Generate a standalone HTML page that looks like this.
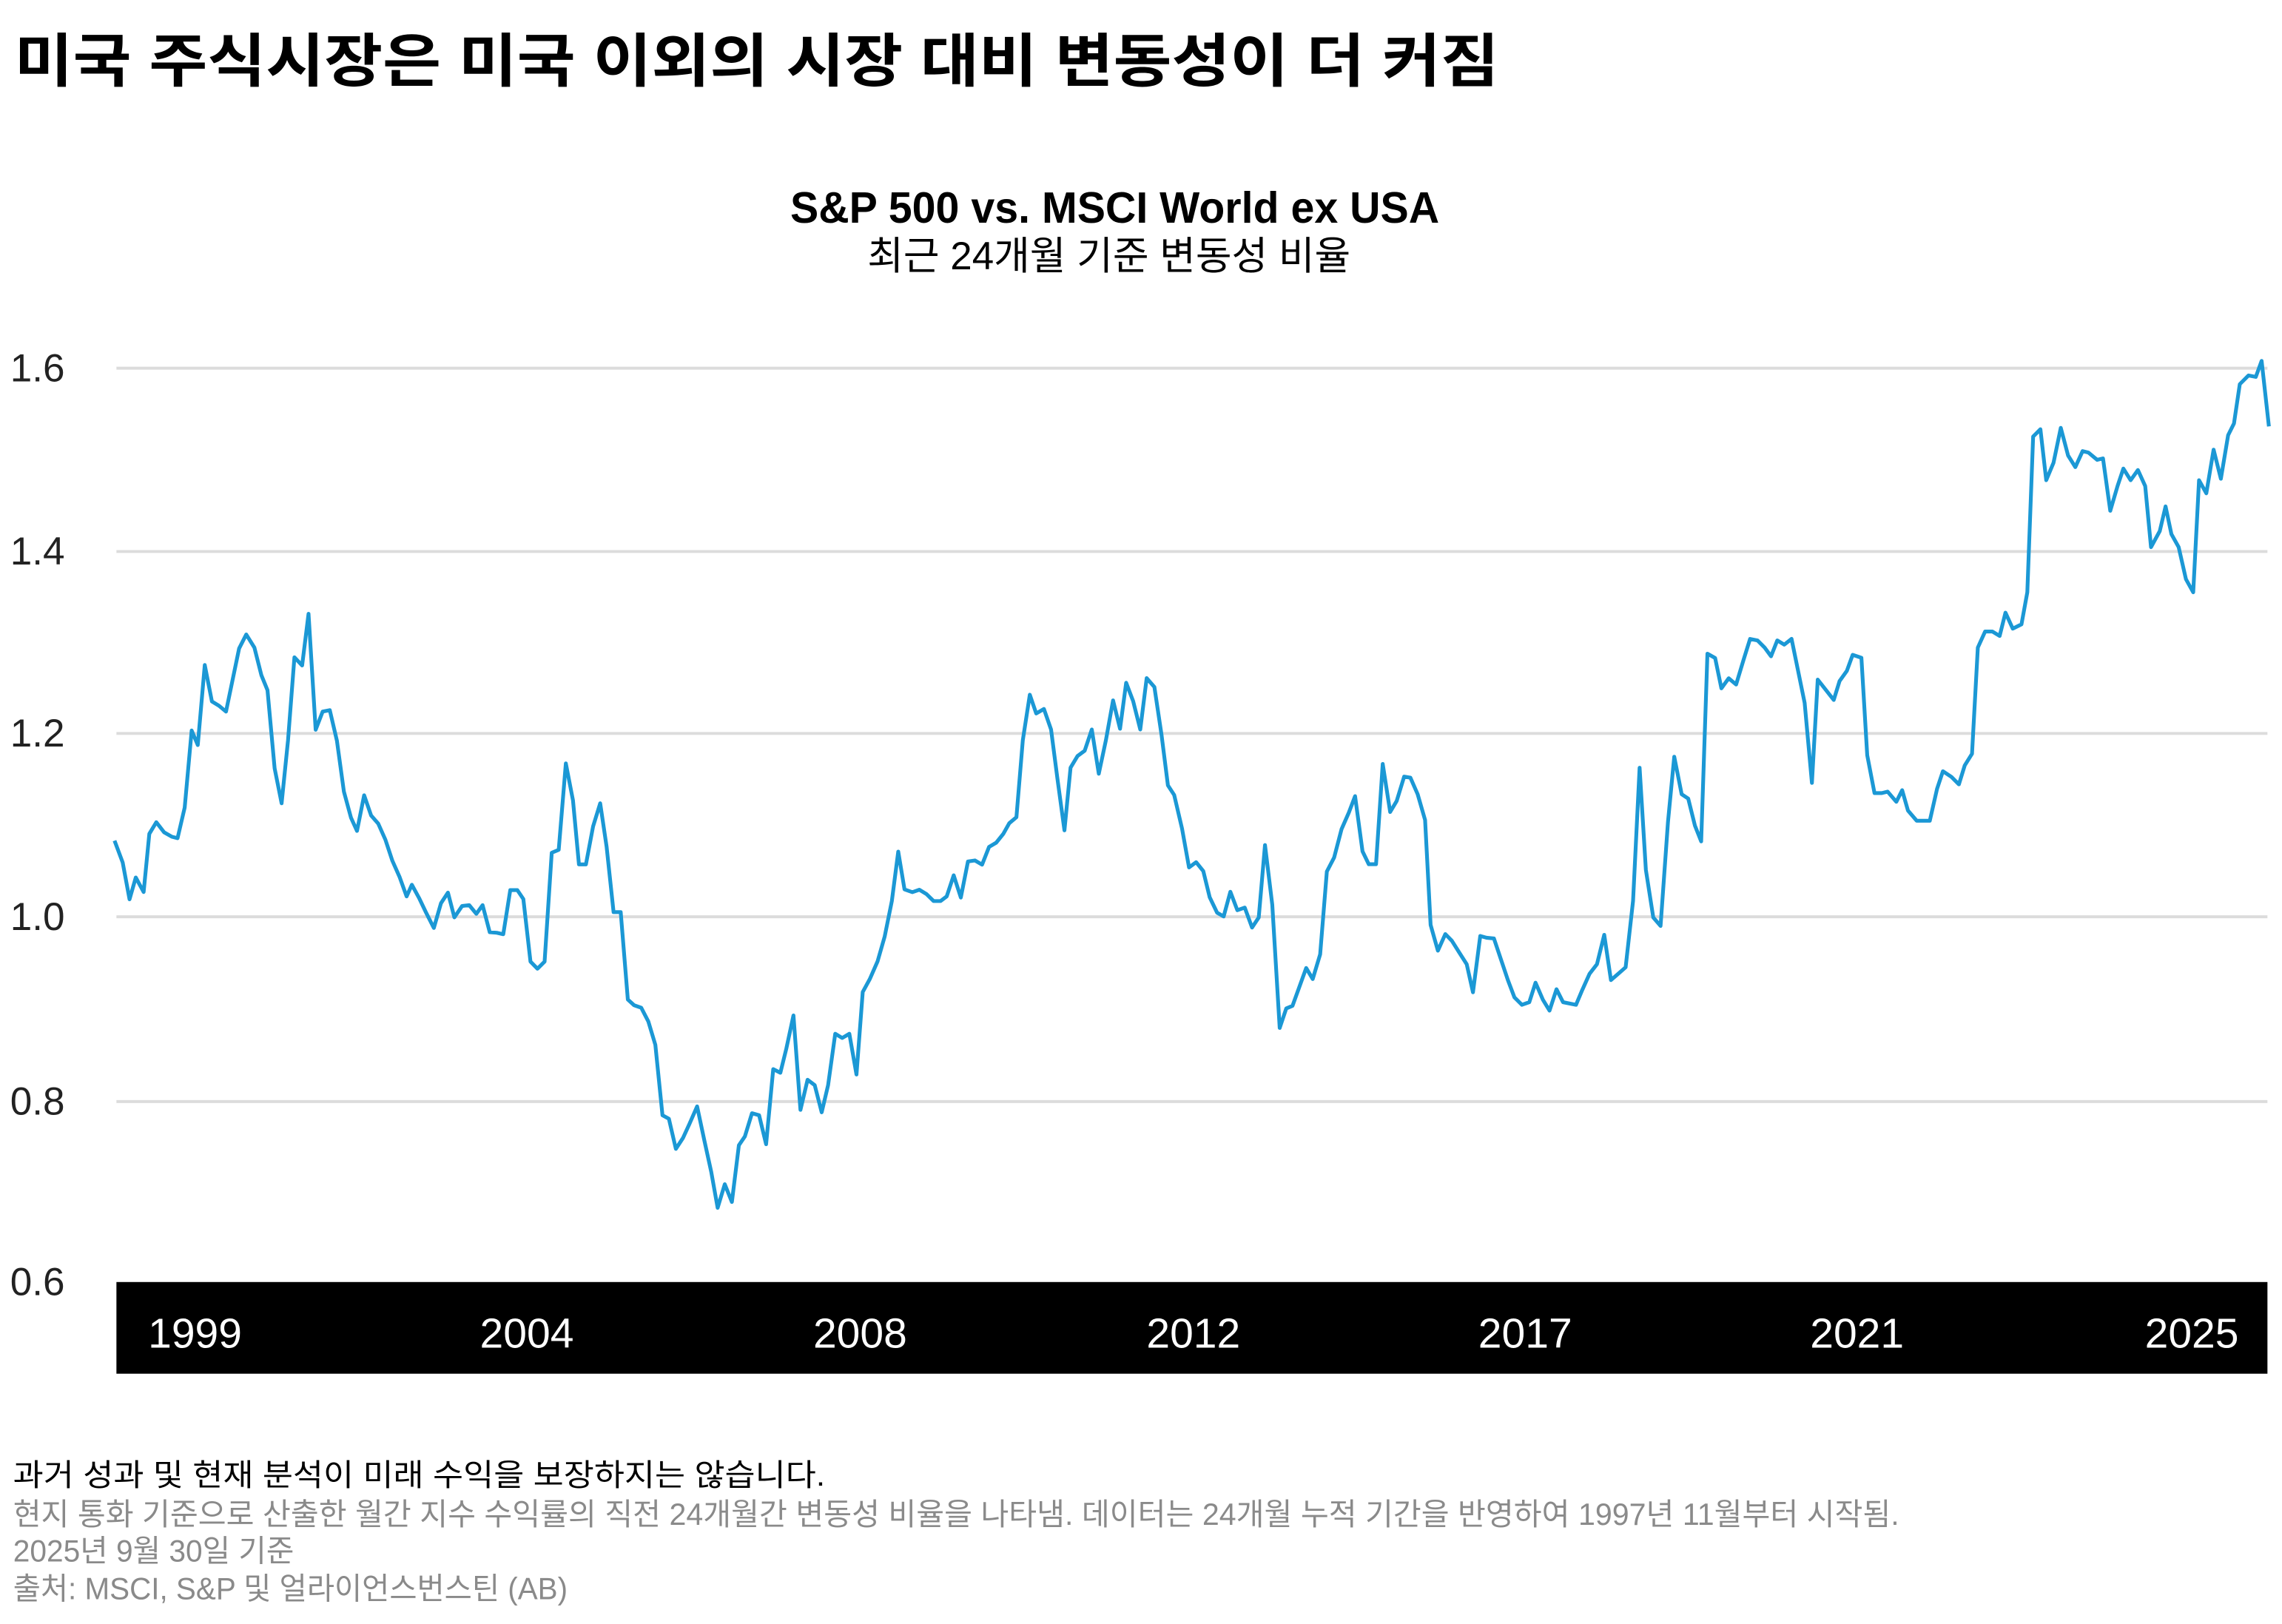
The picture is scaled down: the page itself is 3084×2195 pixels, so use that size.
<!DOCTYPE html>
<html><head><meta charset="utf-8"><style>
html,body{margin:0;padding:0;background:#fff;}
svg{display:block;}
</style></head><body>
<svg xmlns="http://www.w3.org/2000/svg" width="3084" height="2195" viewBox="0 0 1568 1116">
<rect width="1568" height="1116" fill="#fff"/>
<g font-family="'Liberation Sans','Noto Sans CJK KR',sans-serif">
<text x="10" y="56" font-size="40" font-weight="bold" fill="#000" textLength="1020" lengthAdjust="spacingAndGlyphs">미국 주식시장은 미국 이외의 시장 대비 변동성이 더 커짐</text>
<text x="766" y="153" font-size="30" font-weight="bold" fill="#000" text-anchor="middle" textLength="446" lengthAdjust="spacingAndGlyphs">S&amp;P 500 vs. MSCI World ex USA</text>
<text x="762" y="185" font-size="27" fill="#000" text-anchor="middle" textLength="332" lengthAdjust="spacingAndGlyphs">최근 24개월 기준 변동성 비율</text>
</g>
<g stroke="#dcdcdc" stroke-width="2">
<line x1="80" y1="253" x2="1558" y2="253"/>
<line x1="80" y1="379" x2="1558" y2="379"/>
<line x1="80" y1="504" x2="1558" y2="504"/>
<line x1="80" y1="630" x2="1558" y2="630"/>
<line x1="80" y1="757" x2="1558" y2="757"/>
</g>
<g font-family="'Liberation Sans',sans-serif" font-size="27" fill="#222">
<text x="7" y="262">1.6</text>
<text x="7" y="388">1.4</text>
<text x="7" y="513">1.2</text>
<text x="7" y="639">1.0</text>
<text x="7" y="766">0.8</text>
<text x="7" y="890">0.6</text>
</g>
<rect x="80" y="881" width="1478" height="63" fill="#000"/>
<g font-family="'Liberation Sans',sans-serif" font-size="29" fill="#fff" text-anchor="middle">
<text x="134" y="926">1999</text>
<text x="362" y="926">2004</text>
<text x="591" y="926">2008</text>
<text x="820" y="926">2012</text>
<text x="1048" y="926">2017</text>
<text x="1276" y="926">2021</text>
<text x="1506" y="926">2025</text>
</g>
<polyline fill="none" stroke="#1b98d5" stroke-width="2.6" stroke-linejoin="round" points="
78.7,577.7 84.3,592.7 89,618 93.3,603 98.7,613 102.6,573 107.4,565 112.8,572 118.1,575 122,576 126.9,555 131.7,502 135.9,512 140.7,457 145.6,482 150.5,485 155.3,489 164.3,445.6 169.2,436 174.8,445 179.6,464 183.8,474.3 188.7,528 193.5,552 197.9,508.8 202.3,451.7 207.6,457.3 212,421.8 216.9,501.5 221.7,489 226.6,488 231.5,509 236.3,544 241.2,562 245.3,571 250.2,546.5 255,560.4 259.9,566 264.8,577 269.6,591.5 274.5,602.5 279.4,616 283,608 287.9,617 292.7,627 298.1,637.7 303,620.7 307.8,613.4 312.2,630.4 317.5,622.6 322.4,622 327.3,628 331.6,622 336.5,640.6 341.4,641 345.8,642 350.6,611.7 355.5,611.7 359.6,617.8 364.5,660.8 369.3,665.7 374.2,660.8 379.1,586 383.9,584 388.8,524.6 393.7,550 397.8,594 402.6,594 407.5,568 412.4,552 416.8,581.8 421.6,626.8 426.5,626.8 431.4,686.9 435.7,690.8 440.6,692.5 445.5,702 450.3,718 455.2,766.4 459.6,768.8 464.4,789.5 469.3,782 473.7,772.4 479,760.3 483.9,783.4 488.7,805.3 493.1,830 498,813.8 502.9,826 507.7,787 511.8,781 516.7,765 521.6,766.4 526.4,786.3 531.3,734.7 536.2,737.2 540.3,720.6 545.2,697.8 550,762.7 554.9,742 559.8,745.7 564.6,764.4 569,745.7 573.9,710.4 578.7,713.3 583.6,710.4 588.5,738.4 592.8,681.7 597.7,672.7 603,660.6 607.9,643.5 612.8,619.2 617.2,585.2 621.5,611.2 626.9,613.1 631.7,611.4 636.6,614.4 641.5,619.2 646.3,619.2 650.5,616 655.3,601.5 660.2,616.8 665.1,592 669.9,591.3 674.8,594.2 679.6,582 684.5,579.1 689.4,573 693.5,565.7 698.4,561.6 702.8,508.6 707.6,477.4 712,490.3 717.3,487.2 722.2,501.3 726.6,535.3 731.4,570.6 735.6,527.5 740.4,519.5 745.3,515.9 750.2,501.3 755,531.7 759.9,508.6 764.8,481.3 769.6,500.8 773.8,469.2 778.6,481.8 783.5,501.3 787.9,466 793.2,472.1 798.1,504.9 802.5,539.7 806.8,546.3 812.2,569.4 817,596.1 821.9,592.5 826.8,598.6 831.2,616.6 836.3,627.2 840.8,629.8 845.4,612.8 850.2,625.5 855.3,623.7 860.3,637.4 864.9,630.5 869.2,580.7 874.2,621.7 879.3,706.4 883.8,693 888.1,691.2 897.5,665.2 902,672.8 907.1,655.8 911.7,598.9 916.7,589.3 921.8,569.8 926.8,558.4 931.1,547.1 936.2,585 940.5,593.9 945.5,593.9 950.1,525 955.2,558 959.7,550.4 964.8,533.7 969.1,534.4 974.1,545.8 979.2,563.5 983,635.6 988,653.3 993.1,641.9 997.6,646.5 1002.7,654.6 1007.8,662.6 1012.1,681.9 1017.1,643.2 1021.4,644.4 1026.5,644.9 1031,658.3 1036.1,673.5 1040.6,685.4 1045.7,690.5 1050.8,688.7 1055.1,675.3 1060.1,686.9 1064.7,694.5 1069.5,679.8 1074,688.7 1082.9,690.5 1087.2,680.3 1092.2,669.2 1097.3,662.6 1102.3,642.4 1106.9,673.5 1111.9,669.2 1117,664.7 1122.1,619.1 1126.6,527.6 1130.9,597.7 1136,630.5 1141,636.3 1146.1,564.8 1150.4,520 1155.5,545.8 1160,548.8 1164.6,567.3 1168.9,578.2 1173.2,449.2 1178.5,452.2 1182.8,473 1187.8,466.1 1192.9,470.4 1198,453.5 1202.5,439.1 1207.6,440.1 1212.6,445.1 1216.9,451 1221.2,440.1 1226,443 1231,439 1240,483 1245,538 1249,467 1260,481 1264,468 1269,461 1273,450 1279,452 1283,519 1288,545 1293,545 1297,544 1303,551 1307,543 1311,557 1317,564 1326,564 1331,542 1335,530 1341,534 1346,539 1350,526 1355,518 1359,445 1364,434 1369,434 1374,437 1378,421 1383,432 1389,429 1393,407 1397,300 1402,295 1406,330 1411,318 1416,294 1421,313 1426,321 1431,310 1435,311 1441,316 1445,315 1450,351 1455,334 1459,322 1464,330 1469,323 1474,334 1478,376 1484,365 1488,348 1492,367 1497,376 1502,398 1507,407 1511,330 1516,339 1521,309 1526,329 1531,299 1535,291 1539,264 1545,258 1550,259 1554,248 1559,293"/>
<g font-family="'Liberation Sans','Noto Sans CJK KR',sans-serif" font-size="21">
<text x="9" y="1021" fill="#000" textLength="558" lengthAdjust="spacingAndGlyphs">과거 성과 및 현재 분석이 미래 수익을 보장하지는 않습니다.</text>
<text x="9" y="1048" fill="#8a8a8a" textLength="1296" lengthAdjust="spacingAndGlyphs">현지 통화 기준으로 산출한 월간 지수 수익률의 직전 24개월간 변동성 비율을 나타냄. 데이터는 24개월 누적 기간을 반영하여 1997년 11월부터 시작됨.</text>
<text x="9" y="1073" fill="#8a8a8a" textLength="193" lengthAdjust="spacingAndGlyphs">2025년 9월 30일 기준</text>
<text x="9" y="1099" fill="#8a8a8a" textLength="381" lengthAdjust="spacingAndGlyphs">출처: MSCI, S&amp;P 및 얼라이언스번스틴 (AB)</text>
</g>
</svg>
</body></html>
